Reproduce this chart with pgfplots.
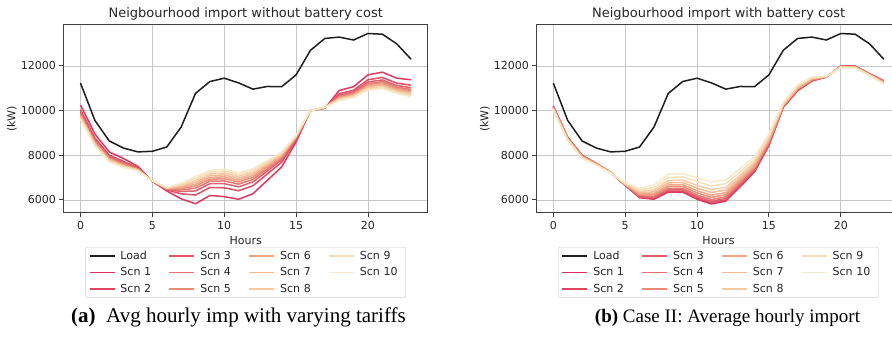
\documentclass[border=0pt]{standalone}
\usepackage{fontspec}
\setmainfont{DejaVu Sans}
\newfontfamily\capfont{Liberation Serif}
\usepackage{pgfplots}
\usepackage{pgfplotstable}
\pgfplotsset{compat=1.18}

\definecolor{cload}{HTML}{1E1E1E}
\definecolor{c1}{HTML}{DC2F5A}
\definecolor{c2}{HTML}{DF4460}
\definecolor{c3}{HTML}{E35966}
\definecolor{c4}{HTML}{E8726C}
\definecolor{c5}{HTML}{EC8A76}
\definecolor{c6}{HTML}{F0A282}
\definecolor{c7}{HTML}{F3B791}
\definecolor{c8}{HTML}{F5CAA2}
\definecolor{c9}{HTML}{F7DDB6}
\definecolor{c10}{HTML}{F8EAC8}

\pgfplotstableread{
h load s1 s2 s3 s4 s5 s6 s7 s8 s9 s10
0 11230 10250 10042 9944 9879 9827 9782 9736 9691 9645 9600
1 9560 8950 8774 8691 8636 8592 8554 8515 8477 8438 8400
2 8640 8150 8006 7938 7893 7857 7826 7794 7763 7731 7700
3 8320 7850 7722 7662 7622 7590 7562 7534 7506 7478 7450
4 8150 7500 7436 7406 7386 7370 7356 7342 7328 7314 7300
5 8180 6830 6840 6845 6848 6850 6852 6855 6858 6860 6862
6 8370 6400 6448 6470 6485 6497 6508 6518 6529 6539 6550
7 9260 6050 6274 6379 6449 6505 6554 6603 6652 6701 6750
8 10770 5830 6220 6403 6525 6623 6708 6794 6879 6965 7050
9 11300 6200 6558 6726 6838 6928 7006 7085 7163 7242 7320
10 11450 6150 6544 6728 6851 6950 7036 7122 7208 7294 7380
11 11240 6030 6411 6589 6708 6804 6887 6970 7053 7137 7220
12 10960 6280 6638 6806 6918 7008 7086 7165 7243 7322 7400
13 11080 6880 7165 7298 7387 7459 7521 7583 7645 7708 7770
14 11070 7480 7694 7795 7862 7916 7962 8009 8056 8103 8150
15 11600 8600 8696 8741 8771 8795 8816 8837 8858 8879 8900
16 12700 10000 10000 10000 10000 10000 10000 10000 10000 10000 10000
17 13230 10100 10116 10124 10129 10133 10136 10140 10143 10147 10150
18 13290 10900 10756 10688 10643 10607 10576 10544 10513 10481 10450
19 13160 11070 10913 10840 10791 10751 10717 10683 10649 10614 10580
20 13450 11600 11382 11280 11212 11158 11110 11063 11015 10968 10920
21 13420 11720 11483 11372 11298 11239 11187 11135 11084 11032 10980
22 12990 11450 11229 11126 11057 11001 10953 10905 10857 10808 10760
23 12300 11380 11137 11023 10947 10886 10833 10780 10726 10673 10620
}\tableA

\pgfplotstableread{
h load s1 s2 s3 s4 s5 s6 s7 s8 s9 s10
0 11230 10200 10190 10176 10160 10140 10120 10096 10070 10036 10000
1 9560 8800 8792 8782 8770 8755 8740 8722 8702 8677 8650
2 8640 8000 7992 7982 7970 7955 7940 7922 7902 7877 7850
3 8320 7630 7626 7620 7614 7606 7598 7588 7578 7564 7550
4 8150 7230 7228 7226 7224 7221 7218 7214 7210 7205 7200
5 8180 6650 6655 6662 6670 6680 6690 6702 6715 6732 6750
6 8370 6100 6121 6150 6184 6226 6268 6318 6373 6444 6520
7 9260 6030 6062 6107 6158 6222 6286 6363 6446 6555 6670
8 10770 6350 6390 6446 6510 6590 6670 6766 6870 7006 7150
9 11300 6350 6392 6450 6516 6599 6682 6782 6890 7031 7180
10 11450 6030 6078 6145 6222 6318 6414 6529 6654 6817 6990
11 11240 5820 5870 5939 6018 6117 6216 6335 6464 6632 6810
12 10960 5950 5997 6063 6138 6232 6326 6439 6561 6721 6890
13 11080 6590 6631 6687 6752 6833 6914 7011 7117 7254 7400
14 11070 7260 7294 7340 7394 7461 7528 7608 7696 7809 7930
15 11600 8440 8466 8502 8544 8596 8648 8710 8778 8866 8960
16 12700 10150 10161 10176 10194 10216 10238 10264 10293 10330 10370
17 13230 10890 10904 10922 10944 10971 10998 11030 11066 11111 11160
18 13290 11330 11339 11352 11366 11384 11402 11424 11447 11478 11510
19 13160 11500 11502 11505 11508 11512 11516 11521 11526 11533 11540
20 13450 12000 11996 11990 11984 11976 11968 11958 11948 11934 11920
21 13420 11990 11986 11979 11972 11963 11954 11943 11932 11916 11900
22 12990 11650 11646 11639 11632 11623 11614 11603 11592 11576 11560
23 12300 11330 11322 11312 11300 11285 11270 11252 11232 11207 11180
}\tableB

\pgfplotsset{
  panel/.style={
    scale only axis, width=363.6pt, height=188pt,
    xmin=-1.15, xmax=24.15, ymin=5416, ymax=13832,
    xtick={0,5,10,15,20}, ytick={6000,8000,10000,12000},
    scaled y ticks=false,
    grid=major, grid style={color=black!22, line width=0.8pt},
    axis line style={color=black!75, line width=1pt},
    tick align=outside, tick pos=left, major tick length=4.5pt,
    tick style={color=black!75, line width=0.9pt},
    /pgf/number format/assume math mode=true,
    /pgf/number format/1000 sep={},
    /pgf/number format/fixed,
    ticklabel style={font=\fontsize{11}{13}\selectfont, color=black!85},
    xlabel={Hours}, ylabel={(kW)},
    xlabel style={at={(axis description cs:0.5,-0.149)}, anchor=center,
      font=\fontsize{11}{13}\selectfont, text=black!85},
    ylabel style={at={(axis description cs:-0.143,0.5)}, anchor=center,
      font=\fontsize{11}{13}\selectfont, text=black!85},
    every axis title shift=0pt,
    title style={at={(axis description cs:0.5,1.0585)}, anchor=center, yshift=0pt,
      font=\fontsize{13}{15}\selectfont, text=black!85},
    legend columns=4,
    legend cell align=left,
    legend style={at={(0.5,-0.181)}, anchor=north, draw=black!20, rounded corners=2pt,
      font=\fontsize{11}{13}\selectfont, text=black!85, inner ysep=2pt, inner xsep=3pt,
      row sep=2.6pt,
      /tikz/every even column/.append style={column sep=5pt},
      nodes={text width=38pt, inner xsep=5pt}},
    legend image code/.code={\draw[#1, line width=1.8pt] (0pt,0pt) -- (25pt,0pt);},
  },
  sc/.style={line width=1.5pt, opacity=0.95},
}

\newcommand{\legendimages}{%
  \addlegendimage{cload}
  \addlegendimage{c3}
  \addlegendimage{c6}
  \addlegendimage{c9}
  \addlegendimage{c1}
  \addlegendimage{c4}
  \addlegendimage{c7}
  \addlegendimage{c10}
  \addlegendimage{c2}
  \addlegendimage{c5}
  \addlegendimage{c8}
  \legend{Load, Scn 3, Scn 6, Scn 9, Scn 1, Scn 4, Scn 7, Scn 10, Scn 2, Scn 5, Scn 8}%
}

\begin{document}
\begin{tikzpicture}
\begin{axis}[panel, at={(64pt,126pt)}, anchor=south west,
  title={Neigbourhood import without battery cost}]
\legendimages
\addplot[cload, line width=1.5pt, forget plot] table[x=h,y=load] {\tableA};
\addplot[c1, sc, forget plot] table[x=h,y=s1] {\tableA};
\addplot[c2, sc, forget plot] table[x=h,y=s2] {\tableA};
\addplot[c3, sc, forget plot] table[x=h,y=s3] {\tableA};
\addplot[c4, sc, forget plot] table[x=h,y=s4] {\tableA};
\addplot[c5, sc, forget plot] table[x=h,y=s5] {\tableA};
\addplot[c6, sc, forget plot] table[x=h,y=s6] {\tableA};
\addplot[c7, sc, forget plot] table[x=h,y=s7] {\tableA};
\addplot[c8, sc, forget plot] table[x=h,y=s8] {\tableA};
\addplot[c9, sc, forget plot] table[x=h,y=s9] {\tableA};
\addplot[c10, sc, forget plot] table[x=h,y=s10] {\tableA};
\end{axis}
\begin{axis}[panel, at={(536.8pt,126pt)}, anchor=south west,
  title={Neigbourhood import with battery cost}]
\legendimages
\addplot[cload, line width=1.5pt, forget plot] table[x=h,y=load] {\tableB};
\addplot[c1, sc, forget plot] table[x=h,y=s1] {\tableB};
\addplot[c2, sc, forget plot] table[x=h,y=s2] {\tableB};
\addplot[c3, sc, forget plot] table[x=h,y=s3] {\tableB};
\addplot[c4, sc, forget plot] table[x=h,y=s4] {\tableB};
\addplot[c5, sc, forget plot] table[x=h,y=s5] {\tableB};
\addplot[c6, sc, forget plot] table[x=h,y=s6] {\tableB};
\addplot[c7, sc, forget plot] table[x=h,y=s7] {\tableB};
\addplot[c8, sc, forget plot] table[x=h,y=s8] {\tableB};
\addplot[c9, sc, forget plot] table[x=h,y=s9] {\tableB};
\addplot[c10, sc, forget plot] table[x=h,y=s10] {\tableB};
\end{axis}
\fill[white] (0pt,0pt) rectangle (892pt,40.5pt);
\node[anchor=base, font=\capfont\fontsize{21}{23}\selectfont] at (238.5pt,16pt)
  {\textbf{(a)}\ \ Avg hourly imp with varying tariffs};
\node[anchor=base, font=\capfont\fontsize{19}{21}\selectfont] at (727.5pt,16pt)
  {\textbf{(b)} Case II: Average hourly import};
\pgfresetboundingbox
\path[use as bounding box] (0pt,0pt) rectangle (892pt,339pt);
\end{tikzpicture}
\end{document}
